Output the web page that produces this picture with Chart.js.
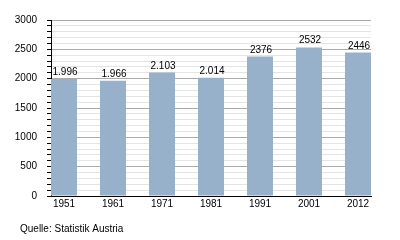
<!DOCTYPE html>
<html>
<head>
<meta charset="utf-8">
<script src="https://cdn.jsdelivr.net/npm/chart.js@4"></script>
<style>
  html, body { margin: 0; padding: 0; background: #fff; }
  canvas { display: block; }
</style>
</head>
<body>
<canvas id="chart" width="400" height="240"></canvas>
<script>
// Population by census year
const years = ['1951', '1961', '1971', '1981', '1991', '2001', '2012'];
const values = [1996, 1966, 2103, 2014, 2376, 2532, 2446];
const valueLabels = ['1.996', '1.966', '2.103', '2.014', '2376', '2532', '2446'];
const yTicks = [0, 500, 1000, 1500, 2000, 2500, 3000];
const source = 'Quelle: Statistik Austria';

(function() {
    'use strict';

    const FONT = '"Liberation Sans", Arial, sans-serif';
    const halfBar = 0.2653;

    // draws the value above each bar
    const valueLabelPlugin = {
        id: 'valueLabels',
        afterDatasetsDraw(chart) {
            const ctx = chart.ctx;
            const meta = chart.getDatasetMeta(0);
            ctx.save();
            ctx.font = '10px ' + FONT;
            ctx.fillStyle = '#000';
            ctx.textAlign = 'center';
            ctx.textBaseline = 'alphabetic';
            meta.data.forEach((bar, i) => {
                ctx.fillText(valueLabels[i], bar.x + 1, bar.y - 4);
            });
            ctx.restore();
        }
    };

    // source note under the chart
    const sourcePlugin = {
        id: 'sourceNote',
        afterDraw(chart) {
            const ctx = chart.ctx;
            ctx.save();
            ctx.font = '10px ' + FONT;
            ctx.fillStyle = '#000';
            ctx.textAlign = 'left';
            ctx.textBaseline = 'middle';
            ctx.fillText(source, 20, 229.5);
            ctx.restore();
        }
    };

    new Chart(document.getElementById('chart'), {
        type: 'bar',
        data: {
            datasets: [{
                data: values.map((v, i) => ({ x: i, y: v })),
                backgroundColor: '#98b1ca',
                borderWidth: 0,
                barPercentage: 0.5306,
                categoryPercentage: 1
            }]
        },
        options: {
            responsive: false,
            animation: false,
            layout: { padding: { top: 20, right: 29, bottom: 24, left: 0 } },
            plugins: {
                legend: { display: false },
                tooltip: { enabled: false }
            },
            scales: {
                x: {
                    type: 'linear',
                    offset: false,
                    min: -halfBar,
                    max: years.length - 1 + halfBar,
                    afterBuildTicks: axis => {
                        axis.ticks = years.map((_, i) => ({ value: i }));
                    },
                    afterFit: axis => { axis.height = 20; },
                    grid: { offset: false, drawOnChartArea: false, drawTicks: false },
                    border: { color: '#000', width: 1 },
                    ticks: {
                        autoSkip: false,
                        maxRotation: 0,
                        padding: 2,
                        color: '#000',
                        font: { family: FONT, size: 10 },
                        callback: v => years[v]
                    }
                },
                y: {
                    min: 0,
                    max: 3000,
                    afterBuildTicks: axis => {
                        const ticks = [];
                        for (let v = 0; v <= 3000; v += 100) ticks.push({ value: v });
                        axis.ticks = ticks;
                    },
                    afterFit: axis => { axis.width = 51; },
                    grid: {
                        color: c => (yTicks.includes(c.tick.value) ? '#aaaaaa' : '#e4e4e4'),
                        tickColor: '#000',
                        tickLength: 4
                    },
                    border: { color: '#000', width: 1 },
                    ticks: {
                        autoSkip: false,
                        padding: 10,
                        color: '#000',
                        font: { family: FONT, size: 10 },
                        callback: v => (yTicks.includes(v) ? String(v) : '')
                    }
                }
            }
        },
        plugins: [valueLabelPlugin, sourcePlugin]
    });
})();
</script>
</body>
</html>
